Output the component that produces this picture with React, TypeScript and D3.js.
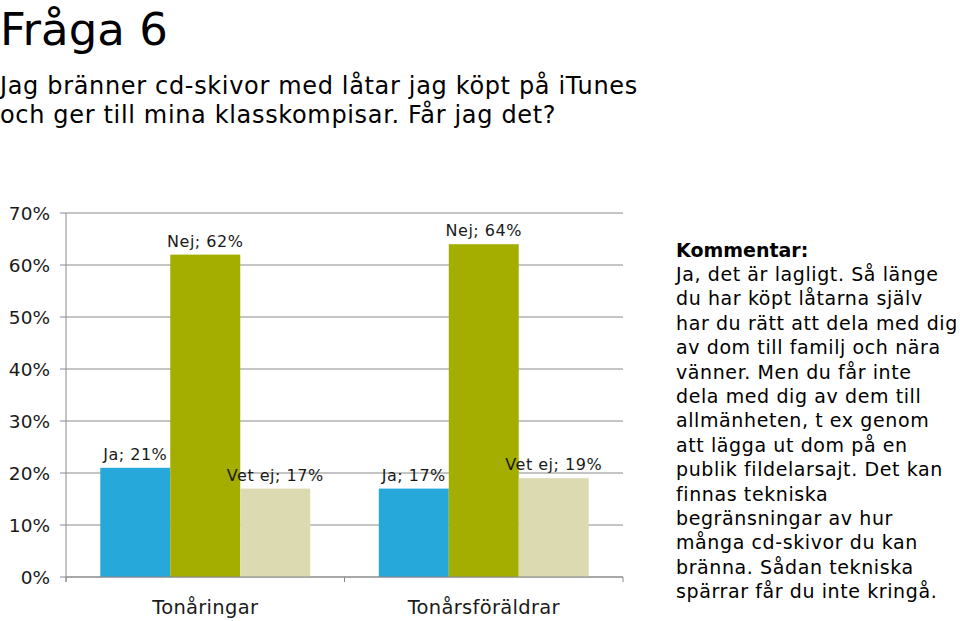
import React from "react";
import * as d3 from "d3";

const categories = ["Tonåringar", "Tonårsföräldrar"];
const seriesNames = ["Ja", "Nej", "Vet ej"];
const jaValues = [21, 17];
const nejValues = [62, 64];
const vetEjValues = [17, 19];
const yTicks = [0, 10, 20, 30, 40, 50, 60, 70];
const seriesColors = ["#27a8da", "#a3ae00", "#dcdab1"];

const title = "Fråga 6";
const subtitleLines = [
  "Jag bränner cd-skivor med låtar jag köpt på iTunes",
  "och ger till mina klasskompisar. Får jag det?",
];
const commentHeader = "Kommentar:";
const commentLines = [
  "Ja, det är lagligt. Så länge",
  "du har köpt låtarna själv",
  "har du rätt att dela med dig",
  "av dom till familj och nära",
  "vänner. Men du får inte",
  "dela med dig av dem till",
  "allmänheten, t ex genom",
  "att lägga ut dom på en",
  "publik fildelarsajt. Det kan",
  "finnas tekniska",
  "begränsningar av hur",
  "många cd-skivor du kan",
  "bränna. Sådan tekniska",
  "spärrar får du inte kringå.",
];

const FONT = "'DejaVu Sans', Verdana, sans-serif";

export default function App() {
  const W = 960;
  const H = 621;
  const left = 66;
  const right = 623;
  const top = 213;
  const bottom = 577;

  const y = d3.scaleLinear().domain([0, 70]).range([bottom, top]);
  const x0 = d3.scaleBand<string>().domain(categories).range([left, right]).paddingInner(0).paddingOuter(0);
  const x1 = d3
    .scaleBand<string>()
    .domain(seriesNames)
    .range([0, x0.bandwidth()])
    .paddingOuter(0.49)
    .paddingInner(0);

  const values = [jaValues, nejValues, vetEjValues];
  const gridColor = "#8a8a8a";

  return (
    <svg
      width={W}
      height={H}
      style={{ position: "absolute", left: 0, top: 0, background: "#fff" }}
      fontFamily={FONT}
    >
      <rect x={0} y={0} width={W} height={H} fill="#fff" />
      <text x={0} y={45} fontSize={45} fill="#000">
        {title}
      </text>
      {subtitleLines.map((l, i) => (
        <text key={i} x={0} y={94 + i * 29} fontSize={24} letterSpacing={0.66} fill="#000">
          {l}
        </text>
      ))}

      {/* gridlines */}
      {yTicks.map((t) => (
        <g key={t}>
          <line x1={left - 6} x2={right} y1={y(t)} y2={y(t)} stroke={gridColor} strokeWidth={1} />
          <text x={50} y={y(t)} dy="0.36em" textAnchor="end" fontSize={18.5} fill="#1a1a1a">
            {t}%
          </text>
        </g>
      ))}

      {/* bars */}
      {categories.map((c, ci) =>
        seriesNames.map((s, si) => {
          const v = values[si][ci];
          const bx = (x0(c) as number) + (x1(s) as number);
          const bw = x1.bandwidth();
          return (
            <g key={c + s}>
              <rect x={bx} y={y(v)} width={bw} height={y(0) - y(v)} fill={seriesColors[si]} />
              <text
                x={bx + bw / 2}
                y={y(v) - 8}
                textAnchor="middle"
                fontSize={16}
                letterSpacing={0.5}
                fill="#1a1a1a"
              >
                {s}; {v}%
              </text>
            </g>
          );
        })
      )}

      {/* axes */}
      <line x1={left} x2={left} y1={top} y2={bottom + 5} stroke={gridColor} strokeWidth={1} />
      <line x1={left} x2={right} y1={bottom} y2={bottom} stroke={gridColor} strokeWidth={1} />
      {[left, ...categories.map((c) => (x0(c) as number) + x0.bandwidth())].map((tx, i) => (
        <line key={i} x1={tx} x2={tx} y1={bottom} y2={bottom + 5} stroke={gridColor} strokeWidth={1} />
      ))}
      {categories.map((c) => (
        <text
          key={c}
          x={(x0(c) as number) + x0.bandwidth() / 2}
          y={614}
          textAnchor="middle"
          fontSize={19.5}
          letterSpacing={0.3}
          fill="#1a1a1a"
        >
          {c}
        </text>
      ))}

      {/* comment */}
      <text x={676} y={257} fontSize={19} fontWeight="bold" fill="#000">
        {commentHeader}
      </text>
      {commentLines.map((l, i) => (
        <text key={i} x={676} y={281 + i * 24.4} fontSize={19} letterSpacing={0.6} fill="#000">
          {l}
        </text>
      ))}
    </svg>
  );
}
